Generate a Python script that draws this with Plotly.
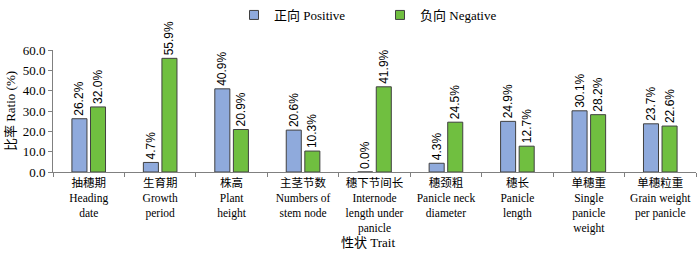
import plotly.graph_objects as go

categories = [
    "抽穗期<br>Heading<br>date",
    "生育期<br>Growth<br>period",
    "株高<br>Plant<br>height",
    "主茎节数<br>Numbers of<br>stem node",
    "穗下节间长<br>Internode<br>length under<br>panicle",
    "穗颈粗<br>Panicle neck<br>diameter",
    "穗长<br>Panicle<br>length",
    "单穗重<br>Single<br>panicle<br>weight",
    "单穗粒重<br>Grain weight<br>per panicle",
]
positive = [26.2, 4.7, 40.9, 20.6, 0.0, 4.3, 24.9, 30.1, 23.7]
negative = [32.0, 55.9, 20.9, 10.3, 41.9, 24.5, 12.7, 28.2, 22.6]
series_names = ["正向 Positive", "负向 Negative"]
series_colors = ["#8faadc", "#70bf40"]
y_ticks = [0, 10, 20, 30, 40, 50, 60]

serif = "Liberation Serif, Times New Roman, Noto Sans CJK SC, serif"
sans = "Liberation Sans, Arial, sans-serif"

fig = go.Figure()
for name, vals, col in zip(series_names, [positive, negative], series_colors):
    fig.add_trace(go.Bar(
        name=name, x=categories, y=vals, showlegend=False,
        marker=dict(color=col, line=dict(color="#404040", width=1)),
        text=[f"{v:.1f}%" for v in vals], textposition="outside",
        textangle=-90, constraintext="none",
        textfont=dict(family=sans, size=12, color="#000"),
        cliponaxis=False,
    ))
# legend entries with small square symbols
for name, col in zip(series_names, series_colors):
    fig.add_trace(go.Scatter(
        name=name, x=[None], y=[None], mode="markers",
        marker=dict(symbol="square", size=9, color=col, line=dict(color="#404040", width=1)),
        showlegend=True,
    ))

fig.update_layout(
    width=700, height=255,
    margin=dict(l=53, r=4, t=50, b=83),
    paper_bgcolor="white", plot_bgcolor="white",
    barmode="group", bargap=0.48, bargroupgap=0.19,
    font=dict(family=serif, size=12, color="#000"),
    showlegend=True,
    legend=dict(orientation="h", xref="container", yref="container",
                x=234/700, y=1.0, xanchor="left", yanchor="top",
                font=dict(family=serif, size=13), entrywidth=101, entrywidthmode="pixels",
                bgcolor="rgba(0,0,0,0)", tracegroupgap=0),
    annotations=[dict(text="性状 Trait", xref="paper", yref="paper",
                      x=0.49, y=-0.574, xanchor="center", yanchor="middle",
                      showarrow=False, font=dict(family=serif, size=13))],
)
fig.update_xaxes(
    showline=True, linecolor="#808080", linewidth=1,
    ticks="outside", tickson="boundaries", ticklen=4, tickcolor="#808080",
    tickfont=dict(family=serif, size=11.5), tickangle=0,
)
fig.update_yaxes(
    range=[0, 60], tickvals=y_ticks, ticktext=[f"{v:.1f}" for v in y_ticks],
    showline=True, linecolor="#808080", linewidth=1,
    ticks="outside", ticklen=4, tickcolor="#808080", showgrid=False, zeroline=False,
    tickfont=dict(family=serif, size=13),
    title=dict(text="比率 Ratio (%)", font=dict(family=serif, size=13), standoff=4),
)

fig.write_html("out.html")
